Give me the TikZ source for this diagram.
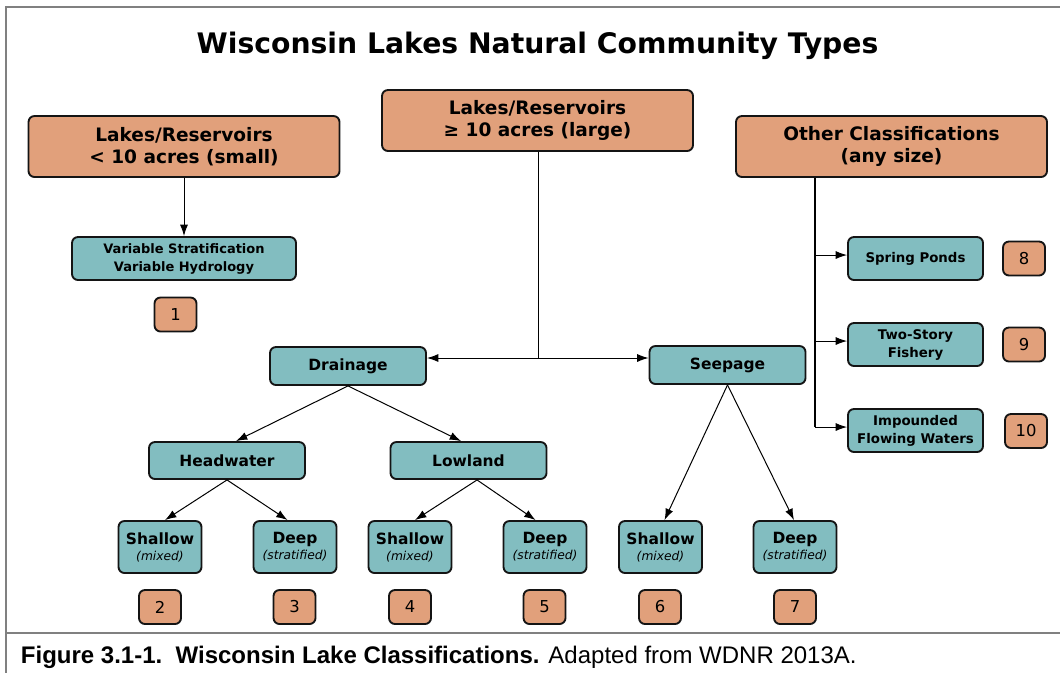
\documentclass[tikz,border=0pt]{standalone}
\usepackage{fontspec}
\setmainfont{DejaVu Sans}
\newfontfamily\capfont{Liberation Sans}
\usetikzlibrary{arrows.meta,calc}
\definecolor{org}{HTML}{E1A07B}
\definecolor{tealc}{HTML}{82BDC0}
\definecolor{framec}{HTML}{808080}
\definecolor{edgec}{HTML}{141414}
\newcommand{\fs}[2]{\fontsize{#1}{#2}\selectfont}
\begin{document}
\begin{tikzpicture}[x=0.75pt,y=-0.75pt,
  box/.style={draw=edgec,line width=1.4pt,rounded corners=4.5pt,inner sep=0pt,align=center},
  obox/.style={box,fill=org},
  tbox/.style={box,fill=tealc},
  topbox/.style={obox,minimum width=233.25pt,minimum height=45.75pt,font=\bfseries\fs{13.9}{16.5}},
  numbox/.style={obox,minimum width=31.5pt,minimum height=25.5pt,font=\fs{12.3}{14}},
  sidebox/.style={tbox,minimum width=101.25pt,minimum height=32.25pt,font=\bfseries\fs{10}{13.5}},
  midbox/.style={tbox,minimum width=117pt,minimum height=28.5pt,font=\bfseries\fs{11.6}{14}},
  botbox/.style={tbox,minimum width=62.25pt,minimum height=39pt,font=\bfseries\fs{11.6}{12}},
  arr/.style={-{Latex[length=8.5pt,width=6pt]},line width=0.75pt,draw=black},
  vline/.style={line width=1.2pt,draw=black},
  framel/.style={line width=1.6pt,draw=framec}
]
\useasboundingbox (0,0) rectangle (1060,675);
\fill[white] (0,0) rectangle (1060,675);
% frame
\draw[framel] (1060,7.3) -- (5.7,7.3) -- (5.7,673);
\draw[framel] (5.7,632.7) -- (1060,632.7);
% title
\node[anchor=base,inner sep=0pt,font=\bfseries\fs{21.2}{26}] (title) at (537.5,53.3) {Wisconsin Lakes Natural Community Types};
% top boxes
\node[topbox] (small) at (184,146.5) {Lakes/Reservoirs\\\textless{} 10 acres (small)};
\node[topbox] (large) at (537.5,120.5) {Lakes/Reservoirs\\≥ 10 acres (large)};
\node[topbox] (other) at (891.5,146.5) {Other Classifications\\(any size)};
% small branch
\node[tbox,minimum width=168pt,minimum height=32.25pt,font=\bfseries\fs{9.75}{13.5}] (var) at (184,258.5) {Variable Stratification\\Variable Hydrology};
\node[numbox] (n1) at (175.5,314.5) {1};
% other branch
\node[sidebox] (spring) at (915.5,258.5) {Spring Ponds};
\node[sidebox] (twostory) at (915.5,344.5) {Two-Story\\Fishery};
\node[sidebox] (impound) at (915.5,430.5) {Impounded\\Flowing Waters};
\node[numbox] (n8) at (1024,258.5) {8};
\node[numbox] (n9) at (1024,344.5) {9};
\node[numbox] (n10) at (1026,431) {10};
% large branch
\node[midbox] (drainage) at (348,366) {Drainage};
\node[midbox] (seepage) at (727.5,365) {Seepage};
\node[midbox,minimum height=27.75pt] (headwater) at (227,460.5) {Headwater};
\node[midbox,minimum height=27.75pt] (lowland) at (468.5,460.5) {Lowland};
\node[botbox] (sh1) at (160,547) {Shallow\\{\mdseries\itshape\fs{9.2}{10}(mixed)}};
\node[botbox] (dp1) at (295,547) {Deep\\{\mdseries\itshape\fs{9.2}{10}(stratified)}};
\node[botbox] (sh2) at (410,547) {Shallow\\{\mdseries\itshape\fs{9.2}{10}(mixed)}};
\node[botbox] (dp2) at (545,547) {Deep\\{\mdseries\itshape\fs{9.2}{10}(stratified)}};
\node[botbox] (sh3) at (660.5,547) {Shallow\\{\mdseries\itshape\fs{9.2}{10}(mixed)}};
\node[botbox] (dp3) at (795,547) {Deep\\{\mdseries\itshape\fs{9.2}{10}(stratified)}};
\node[numbox] (n2) at (160,607) {2};
\node[numbox] (n3) at (294.5,607) {3};
\node[numbox] (n4) at (410,607) {4};
\node[numbox] (n5) at (544.5,607) {5};
\node[numbox] (n6) at (660,607) {6};
\node[numbox] (n7) at (795,607) {7};
% connectors
\draw[arr] (small) -- (var);
\coordinate (j) at (538.6,358);
\draw[vline] (large.south -| j) -- (j);
\draw[arr] (j) -- (j -| drainage.east);
\draw[arr] (j) -- (j -| seepage.west);
\coordinate (ot) at ([xshift=-57.4pt]other.south);
\draw[vline] (ot) -- ([yshift=2.6pt]impound.west -| ot);
\draw[arr] ([yshift=2.6pt]spring.west -| ot) -- ([yshift=2.6pt]spring.west);
\draw[arr] ([yshift=2.6pt]twostory.west -| ot) -- ([yshift=2.6pt]twostory.west);
\draw[arr] ([yshift=2.6pt]impound.west -| ot) -- ([yshift=2.6pt]impound.west);
\draw[arr] (drainage.south) -- ([xshift=6.75pt]headwater.north);
\draw[arr] (drainage.south) -- ([xshift=-5.6pt]lowland.north);
\draw[arr] (headwater.south) -- ([xshift=3.75pt]sh1.north);
\draw[arr] (headwater.south) -- ([xshift=-5.6pt]dp1.north);
\draw[arr] ([xshift=6.4pt]lowland.south) -- ([xshift=3.75pt]sh2.north);
\draw[arr] ([xshift=6.4pt]lowland.south) -- ([xshift=-7.1pt]dp2.north);
\draw[arr] (seepage.south) -- ([xshift=3pt]sh3.north);
\draw[arr] (seepage.south) -- ([xshift=-0.75pt]dp3.north);
% caption
\node[anchor=base west,inner sep=0pt,font=\capfont\fs{18}{21}] (caption) at (20.7,663) {\textbf{Figure 3.1-1.\ \ Wisconsin Lake Classifications.} Adapted from WDNR 2013A.};
\end{tikzpicture}
\end{document}
